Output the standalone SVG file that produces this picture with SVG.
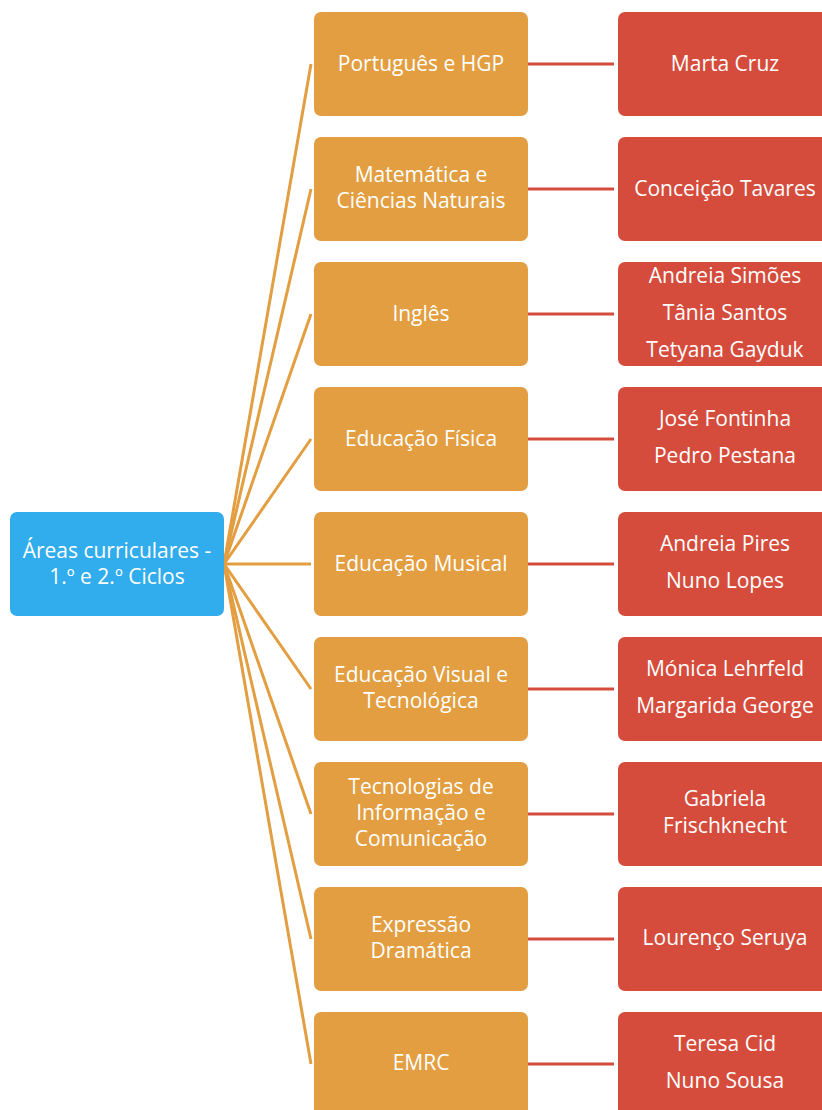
<svg xmlns="http://www.w3.org/2000/svg" width="822" height="1110" viewBox="0 0 822 1110">
<style>
.root{fill:#31ACEC}
.area{fill:#E29E40}
.prof{fill:#D64C3C}
.c1{stroke:#E29E40;stroke-width:3;fill:none}
.c2{stroke:#D64C3C;stroke-width:3;fill:none}
text{font-family:"Open Sans","Liberation Sans",sans-serif;font-size:21px;fill:#fff;text-anchor:middle}
</style>
<rect width="822" height="1110" fill="#fff"/>
<g id="connectors">
<line class="c1" x1="224" y1="564" x2="311" y2="64"/>
<line class="c1" x1="224" y1="564" x2="311" y2="189"/>
<line class="c1" x1="224" y1="564" x2="311" y2="314"/>
<line class="c1" x1="224" y1="564" x2="311" y2="439"/>
<line class="c1" x1="224" y1="564" x2="311" y2="564"/>
<line class="c1" x1="224" y1="564" x2="311" y2="689"/>
<line class="c1" x1="224" y1="564" x2="311" y2="814"/>
<line class="c1" x1="224" y1="564" x2="311" y2="939"/>
<line class="c1" x1="224" y1="564" x2="311" y2="1064"/>
<line class="c2" x1="528" y1="64" x2="614" y2="64"/>
<line class="c2" x1="528" y1="189" x2="614" y2="189"/>
<line class="c2" x1="528" y1="314" x2="614" y2="314"/>
<line class="c2" x1="528" y1="439" x2="614" y2="439"/>
<line class="c2" x1="528" y1="564" x2="614" y2="564"/>
<line class="c2" x1="528" y1="689" x2="614" y2="689"/>
<line class="c2" x1="528" y1="814" x2="614" y2="814"/>
<line class="c2" x1="528" y1="939" x2="614" y2="939"/>
<line class="c2" x1="528" y1="1064" x2="614" y2="1064"/>
</g>
<g id="root"><rect class="root" x="10" y="512" width="214" height="104" rx="7"/><text x="117" y="558">Áreas curriculares -</text><text x="117" y="584">1.º e 2.º Ciclos</text></g>
<g id="a1"><rect class="area" x="314" y="12" width="214" height="104" rx="7"/><text x="421" y="71">Português e HGP</text></g>
<g id="a2"><rect class="area" x="314" y="137" width="214" height="104" rx="7"/><text x="421" y="182">Matemática e</text><text x="421" y="208">Ciências Naturais</text></g>
<g id="a3"><rect class="area" x="314" y="262" width="214" height="104" rx="7"/><text x="421" y="321">Inglês</text></g>
<g id="a4"><rect class="area" x="314" y="387" width="214" height="104" rx="7"/><text x="421" y="446">Educação Física</text></g>
<g id="a5"><rect class="area" x="314" y="512" width="214" height="104" rx="7"/><text x="421" y="571">Educação Musical</text></g>
<g id="a6"><rect class="area" x="314" y="637" width="214" height="104" rx="7"/><text x="421" y="682">Educação Visual e</text><text x="421" y="708">Tecnológica</text></g>
<g id="a7"><rect class="area" x="314" y="762" width="214" height="104" rx="7"/><text x="421" y="794">Tecnologias de</text><text x="421" y="820">Informação e</text><text x="421" y="846">Comunicação</text></g>
<g id="a8"><rect class="area" x="314" y="887" width="214" height="104" rx="7"/><text x="421" y="932">Expressão</text><text x="421" y="958">Dramática</text></g>
<g id="a9"><rect class="area" x="314" y="1012" width="214" height="104" rx="7"/><text x="421" y="1070">EMRC</text></g>
<g id="p1"><rect class="prof" x="618" y="12" width="214" height="104" rx="7"/><text x="725" y="71">Marta Cruz</text></g>
<g id="p2"><rect class="prof" x="618" y="137" width="214" height="104" rx="7"/><text x="725" y="196">Conceição Tavares</text></g>
<g id="p3"><rect class="prof" x="618" y="262" width="214" height="104" rx="7"/><text x="725" y="283">Andreia Simões</text><text x="725" y="320">Tânia Santos</text><text x="725" y="357">Tetyana Gayduk</text></g>
<g id="p4"><rect class="prof" x="618" y="387" width="214" height="104" rx="7"/><text x="725" y="426">José Fontinha</text><text x="725" y="463">Pedro Pestana</text></g>
<g id="p5"><rect class="prof" x="618" y="512" width="214" height="104" rx="7"/><text x="725" y="551">Andreia Pires</text><text x="725" y="588">Nuno Lopes</text></g>
<g id="p6"><rect class="prof" x="618" y="637" width="214" height="104" rx="7"/><text x="725" y="676">Mónica Lehrfeld</text><text x="725" y="713">Margarida George</text></g>
<g id="p7"><rect class="prof" x="618" y="762" width="214" height="104" rx="7"/><text x="725" y="806">Gabriela</text><text x="725" y="833">Frischknecht</text></g>
<g id="p8"><rect class="prof" x="618" y="887" width="214" height="104" rx="7"/><text x="725" y="945">Lourenço Seruya</text></g>
<g id="p9"><rect class="prof" x="618" y="1012" width="214" height="104" rx="7"/><text x="725" y="1051">Teresa Cid</text><text x="725" y="1088">Nuno Sousa</text></g>
</svg>
